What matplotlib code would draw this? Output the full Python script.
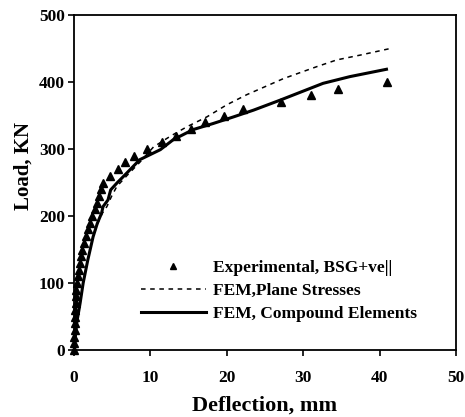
import matplotlib
matplotlib.use("Agg")
import matplotlib.pyplot as plt

plt.rcParams['font.family'] = ['Liberation Serif', 'DejaVu Serif']
plt.rcParams['font.weight'] = 'bold'

exp_x = [0, 0.02, 0.05, 0.08, 0.1, 0.13, 0.17, 0.2, 0.25, 0.3, 0.35, 0.5, 0.7, 0.85,
         0.95, 1.1, 1.3, 1.55, 1.8, 2.1, 2.4, 2.7, 3.0, 3.3, 3.5, 3.8,
         4.7, 5.7, 6.7, 7.9, 9.6, 11.5, 13.3, 15.3, 17.2, 19.6, 22.1,
         27.1, 31.0, 34.6, 41.0]
exp_y = [0, 10, 20, 30, 40, 50, 60, 70, 80, 90, 100, 110, 120, 130,
         140, 150, 160, 170, 180, 190, 200, 210, 220, 230, 240, 250,
         260, 270, 280, 290, 300, 310, 320, 330, 340, 350, 360,
         370, 380, 390, 400]

ps_x = [0, 0.35, 0.8, 1.2, 1.8, 2.5, 3.1, 3.7, 4.3, 4.9, 5.6, 6.9, 8.6, 10.4, 12.6,
        14.75, 17.4, 20.0, 22.6, 25.0, 27.4, 31.8, 34.4, 37.4, 41.4]
ps_y = [0, 40, 70, 100, 134, 169, 189, 204, 214, 229, 244, 260, 280, 303, 319,
        333, 348, 366, 381, 393, 405, 423, 433, 440, 450]

ce_x = [0, 0.35, 0.8, 1.2, 1.8, 2.5, 3.05, 3.6, 3.8, 4.45, 4.8, 5.6, 6.9, 8.6, 11.3,
        13.0, 15.6, 18.2, 20.9, 23.5, 27.0, 32.6, 36.1, 40.9]
ce_y = [0, 40, 70, 100, 134, 169, 189, 204, 214, 224, 239, 249, 264, 284, 299,
        314, 329, 338, 348, 358, 373, 398, 408, 419]

fig = plt.figure(figsize=(4.65, 4.17), dpi=100)
ax = fig.add_axes([74/465, 1 - 350/417, (456-74)/465, (350-15)/417])

ax.plot(exp_x, exp_y, linestyle='none', marker='^', color='black', markersize=5.5,
        label='Experimental, BSG+ve||', clip_on=False, zorder=3)
ax.plot(ps_x, ps_y, linestyle=(0, (3, 3)), color='black', linewidth=1.1,
        label='FEM,Plane Stresses')
ax.plot(ce_x, ce_y, linestyle='-', color='black', linewidth=2.2,
        label='FEM, Compound Elements')

ax.set_xlim(0, 50)
ax.set_ylim(0, 500)
ax.set_xticks([0, 10, 20, 30, 40, 50])
ax.set_yticks([0, 100, 200, 300, 400, 500])
ax.tick_params(direction='out', length=4.5, width=1.2, labelsize=12.5)
ax.tick_params(axis='x', pad=10)
ax.tick_params(axis='y', pad=2)
for lab in ax.get_xticklabels() + ax.get_yticklabels():
    lab.set_fontweight('bold')
for s in ax.spines.values():
    s.set_linewidth(1.3)

ax.set_xlabel('Deflection, mm', fontsize=16, fontweight='bold', labelpad=7)
ax.set_ylabel('Load, KN', fontsize=15, fontweight='bold')
ax.yaxis.set_label_coords(-0.107, 0.549)

leg = ax.legend(loc='upper left', bbox_to_anchor=(0.134, 0.315), frameon=False,
                handlelength=3.75, handletextpad=0.4, labelspacing=0.4,
                markerscale=0.7,
                prop={'family': 'Liberation Serif', 'weight': 'bold', 'size': 12.5})

fig.savefig('out.png', dpi=100)
